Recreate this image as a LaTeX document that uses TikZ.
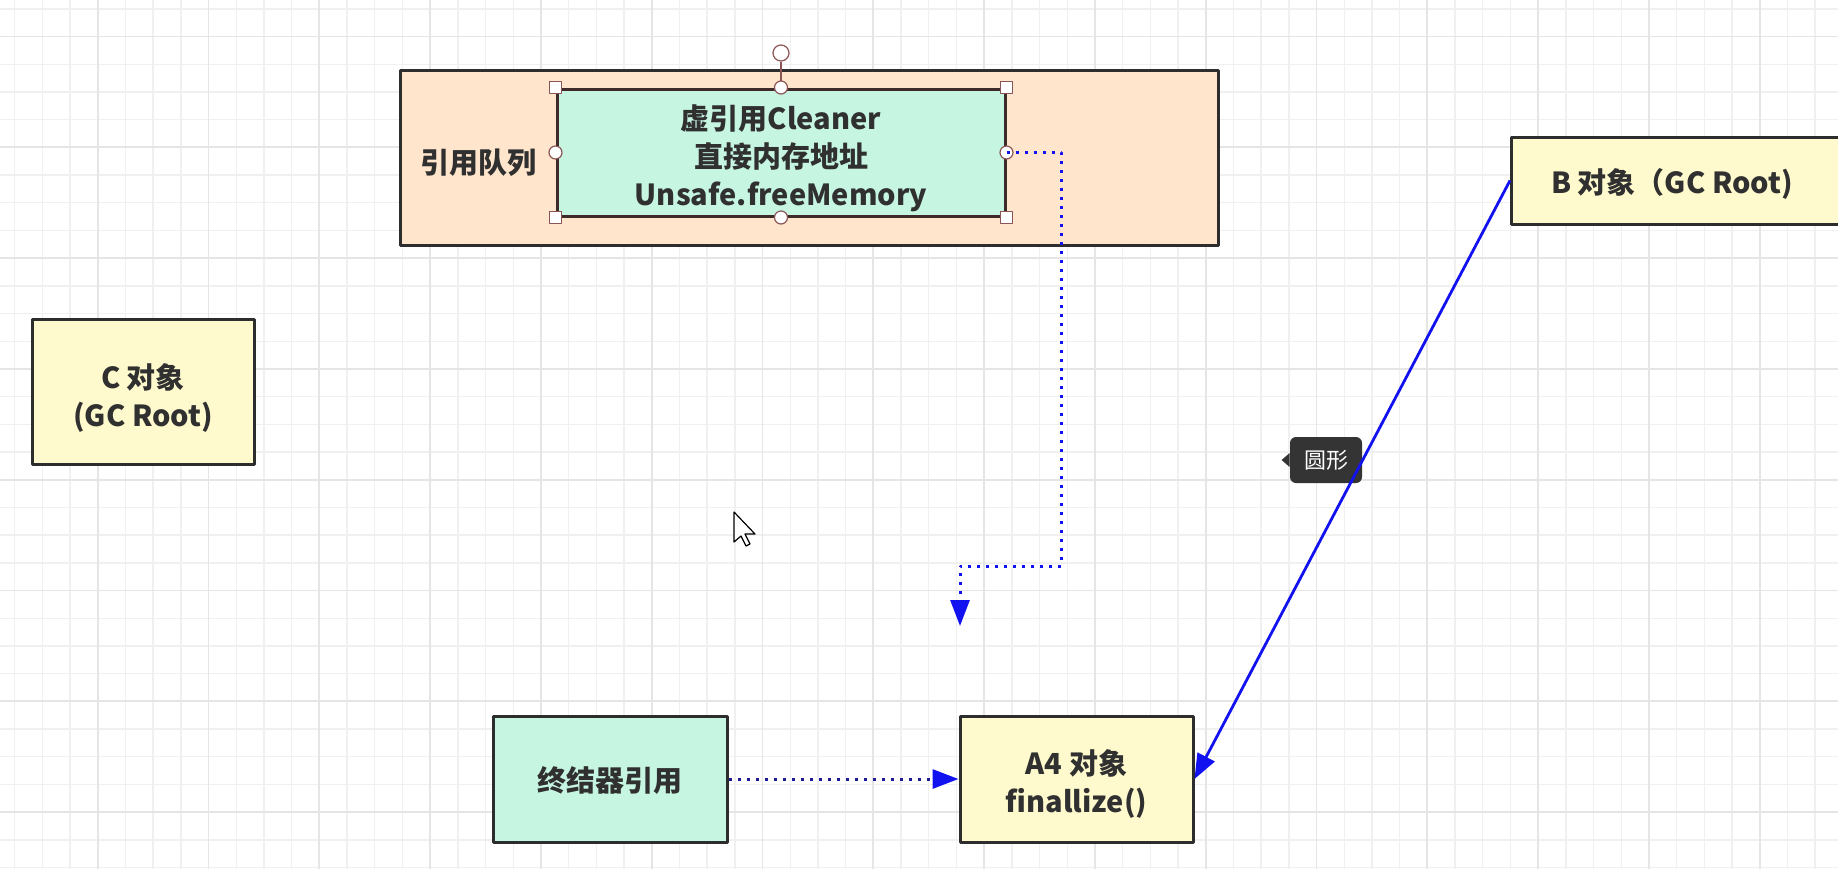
\documentclass[tikz,border=0pt]{standalone}
\usepackage{fontspec}
\setmainfont{Noto Sans CJK SC}
\usetikzlibrary{arrows.meta,calc}
\definecolor{gcgrid}{RGB}{240,240,240}
\definecolor{gcgridmajor}{RGB}{229,229,229}
\definecolor{gcorange}{RGB}{255,229,204}
\definecolor{gcmint}{RGB}{198,245,226}
\definecolor{gcyellow}{RGB}{255,250,205}
\definecolor{gcedge}{RGB}{45,45,45}
\definecolor{gcsel}{RGB}{62,42,40}
\definecolor{gchandle}{RGB}{140,85,85}
\definecolor{gcblue}{RGB}{18,18,240}
\definecolor{gcnavy}{RGB}{28,28,150}
\definecolor{gctip}{RGB}{52,52,52}
\definecolor{gctext}{RGB}{48,48,48}

\tikzset{
  gridminor/.style={gcgrid, line width=0.7pt},
  gridmajor/.style={gcgridmajor, line width=0.9pt},
  gcbox/.style={draw=gcedge, line width=1.5pt, rectangle, inner sep=0pt, align=center,
    text=gctext, font=\bfseries\fontsize{14.5}{19}\selectfont},
  gclabel/.style={text=gctext, font=\bfseries\fontsize{14.5}{19}\selectfont, inner sep=0pt, align=center},
  selsquare/.style={draw=gchandle, fill=white, line width=0.6pt, minimum size=6pt, inner sep=0pt},
  selcircle/.style={draw=gchandle, fill=white, line width=0.6pt, circle, minimum size=6.5pt, inner sep=0pt},
  dotlink/.style={line width=1.5pt, dash pattern=on 1.5pt off 3pt,
    -{Triangle[length=13pt,width=9.5pt,color=gcblue]}},
  reflink/.style={gcblue, line width=1.4pt, -{Triangle[length=12.5pt,width=9.5pt]}},
  tipbox/.style={fill=gctip, rounded corners=3pt, minimum width=36pt, minimum height=23pt,
    inner sep=0pt, text=white, font=\fontsize{11}{13}\selectfont},
}

\begin{document}
\begin{tikzpicture}[x=0.5pt, y=-0.5pt, line join=round]
  % --- page + grid ---
  \clip (0,0) rectangle (1838,869);
  \fill[white] (0,0) rectangle (1838,869);
  \foreach \i in {0,...,66} \draw[gridminor] ({14.6+27.7*\i},0) -- ++(0,869);
  \foreach \j in {0,...,31} \draw[gridminor] (0,{8.8+27.7*\j}) -- ++(1838,0);
  \foreach \i in {0,...,16} \draw[gridmajor] ({97.7+110.8*\i},0) -- ++(0,869);
  \foreach \j in {0,...,7} \draw[gridmajor] (0,{36.5+110.8*\j}) -- ++(1838,0);

  % === reference queue (orange) with the selected Cleaner box ===
  \node[gcbox, fill=gcorange, minimum width=409pt, minimum height=87.5pt] (queue) at (809,157.5) {};
  \node[gclabel] (queuelabel) at (478,163) {引用队列};
  \node[gcbox, fill=gcmint, draw=gcsel, minimum width=224pt, minimum height=63.5pt] (cleaner) at (781,152.5) {};
  \node[gclabel] (cleanertext) at ($(cleaner)+(0,6)$) {虚引用Cleaner\\直接内存地址\\Unsafe.freeMemory};

  % selection handles + rotate knob
  \node[selcircle, minimum size=8pt] (rot) at (781,53) {};
  \draw[gchandle, line width=0.6pt] (rot) -- (cleaner.north);
  \foreach \a/\n in {north west/nw, north east/ne, south west/sw, south east/se}
    \node[selsquare] (h-\n) at (cleaner.\a) {};
  \foreach \a/\n in {north/n, south/s, west/w, east/e}
    \node[selcircle] (h-\n) at (cleaner.\a) {};

  % === objects ===
  \node[gcbox, fill=gcyellow, minimum width=111pt, minimum height=72.5pt] (croot) at (143,391.5) {};
  \node[gclabel] (ctext) at ($(croot)+(0,6)$) {C 对象\\(GC Root)};
  \node[gcbox, fill=gcyellow, minimum width=200pt, minimum height=43.5pt, anchor=west] (broot) at (1510,180.5) {};
  \node[gclabel] (btext) at (1672,184) {B 对象（GC Root)};
  \node[gcbox, fill=gcmint, minimum width=117pt, minimum height=63pt] (finref) at (610,779) {};
  \node[gclabel] (fintext) at ($(finref)+(0,1)$) {终结器引用};
  \node[gcbox, fill=gcyellow, minimum width=116.5pt, minimum height=63pt] (afour) at (1076.5,779) {};
  \node[gclabel] (atext) at ($(afour)+(0,5)$) {A4 对象\\finallize()};

  % === links ===
  \coordinate (elbow) at (1061,566);
  \coordinate (drop) at (960,626);
  \draw[dotlink, gcblue] (cleaner.east) -| (elbow) -| (drop);
  \draw[dotlink, gcnavy] (finref.east) -- (afour.west);

  % tooltip over the B -> A4 line
  \node[tipbox] (tip) at (1326,460) {圆形};
  \fill[gctip] ($(tip.west)+(0,-7)$) -- ($(tip.west)+(-8,0)$) -- ($(tip.west)+(0,7)$) -- cycle;
  \draw[reflink] (broot.west) -- (afour.east);

  % mouse pointer
  \draw[fill=white, line width=0.6pt, shift={(734,512)}]
    (0,0) -- (0,30) -- (7,24) -- (12,34) -- (16,32) -- (11,22) -- (21,22) -- cycle;
\end{tikzpicture}
\end{document}
